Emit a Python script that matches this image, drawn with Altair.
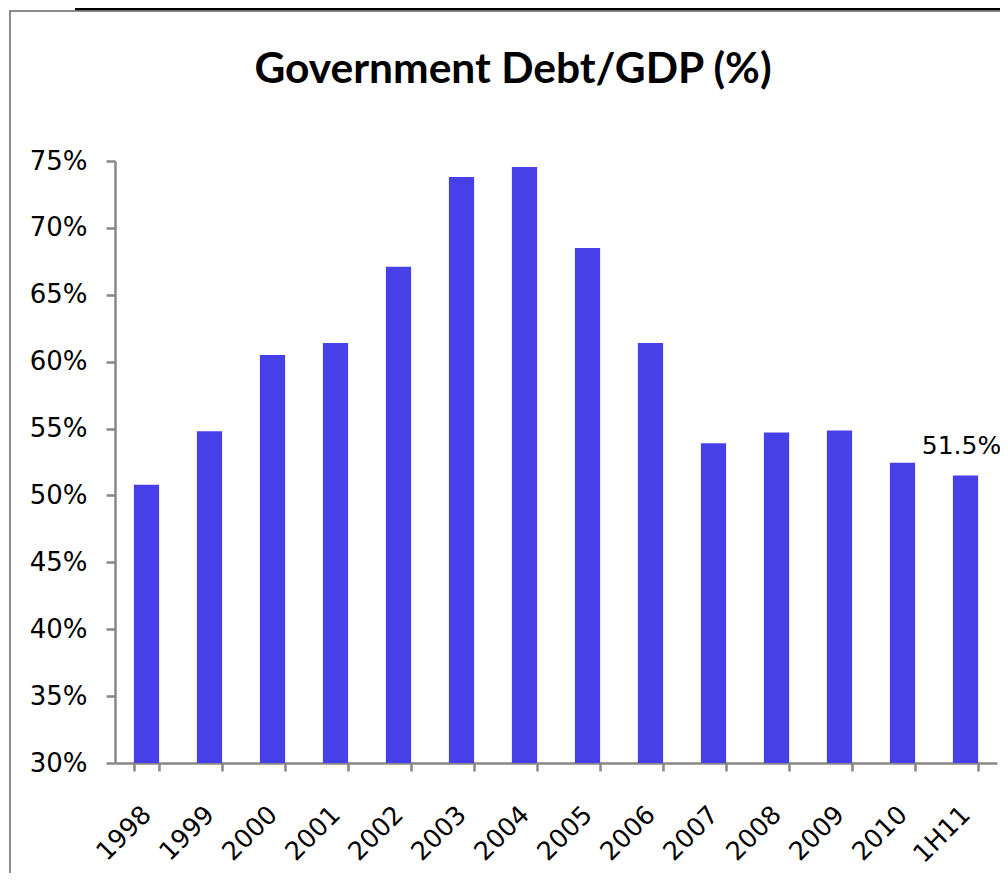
import altair as alt
import pandas as pd

years = ["1998", "1999", "2000", "2001", "2002", "2003", "2004",
         "2005", "2006", "2007", "2008", "2009", "2010", "1H11"]
debt_pct = [50.8, 54.8, 60.5, 61.4, 67.1, 73.8, 74.55,
            68.5, 61.4, 53.9, 54.7, 54.85, 52.45, 51.5]
label_year = "1H11"
label_text = "51.5%"
title_text = "Government Debt/GDP (%)"

df = pd.DataFrame({"year": years, "debt": [v / 100 for v in debt_pct]})
df["label"] = [label_text if y == label_year else "" for y in years]

W, H = 882, 602
BAR = "#4740E9"
GRAY = "#878787"

x_enc = alt.X("year:N", sort=years, title=None,
              scale=alt.Scale(paddingInner=0.6, paddingOuter=0.3),
              axis=alt.Axis(tickBand="extent", labelAngle=315, labelAlign="right",
                            labelBaseline="middle", labelPadding=39,
                            labelFont="DejaVu Sans", labelFontSize=25.5, labelColor="black",
                            domainColor=GRAY, domainWidth=2.5, tickColor=GRAY,
                            tickWidth=2.5, tickSize=8))
y_scale = alt.Scale(domain=[0.30, 0.75], zero=False, nice=False)

bars = alt.Chart(df).mark_bar(color=BAR).encode(
    x=x_enc,
    y=alt.Y("debt:Q", scale=y_scale, title=None,
            axis=alt.Axis(values=[0.30, 0.35, 0.40, 0.45, 0.50, 0.55, 0.60, 0.65, 0.70, 0.75],
                          format=".0%", grid=False, labelFont="DejaVu Sans",
                          labelFontSize=26, labelColor="black", labelPadding=19,
                          domainColor=GRAY, domainWidth=2.5, tickColor=GRAY,
                          tickWidth=2.5, tickSize=9)),
    y2=alt.Y2(datum=0.30),
)

labels = alt.Chart(df).transform_filter(alt.datum.label != "").mark_text(
    font="DejaVu Sans", fontSize=25, color="black", baseline="alphabetic", dy=-21, dx=-4
).encode(
    x=alt.X("year:N", sort=years),
    y=alt.Y("debt:Q", scale=y_scale),
    text="label:N",
)

frame = alt.Data(values=[{"k": 1}])
left_border = alt.Chart(frame).mark_rule(color="#8C8C8C", strokeWidth=2).encode(
    x=alt.value(-105), y=alt.value(-150), y2=alt.value(740))
top_border = alt.Chart(frame).mark_rule(color="#8C8C8C", strokeWidth=2).encode(
    x=alt.value(-106), x2=alt.value(900), y=alt.value(-150))
top_black = alt.Chart(frame).mark_rule(color="black", strokeWidth=2.5).encode(
    x=alt.value(-40), x2=alt.value(900), y=alt.value(-152))

title_data = alt.Data(values=[{"t": title_text}])
title = alt.Chart(title_data).mark_text(
    font="Lato", fontSize=42.5, fontWeight="bold", color="black",
    align="center", baseline="alphabetic"
).encode(x=alt.value(398), y=alt.value(-78), text="t:N")

chart = alt.layer(left_border, top_border, top_black, bars, labels, title).properties(
    width=W, height=H,
    autosize=alt.AutoSizeParams(type="none"),
    padding={"left": 107, "top": 153, "right": 3, "bottom": 110},
).configure_view(stroke=None)

chart.save("out.html", embed_options={"renderer": "svg", "actions": False})
